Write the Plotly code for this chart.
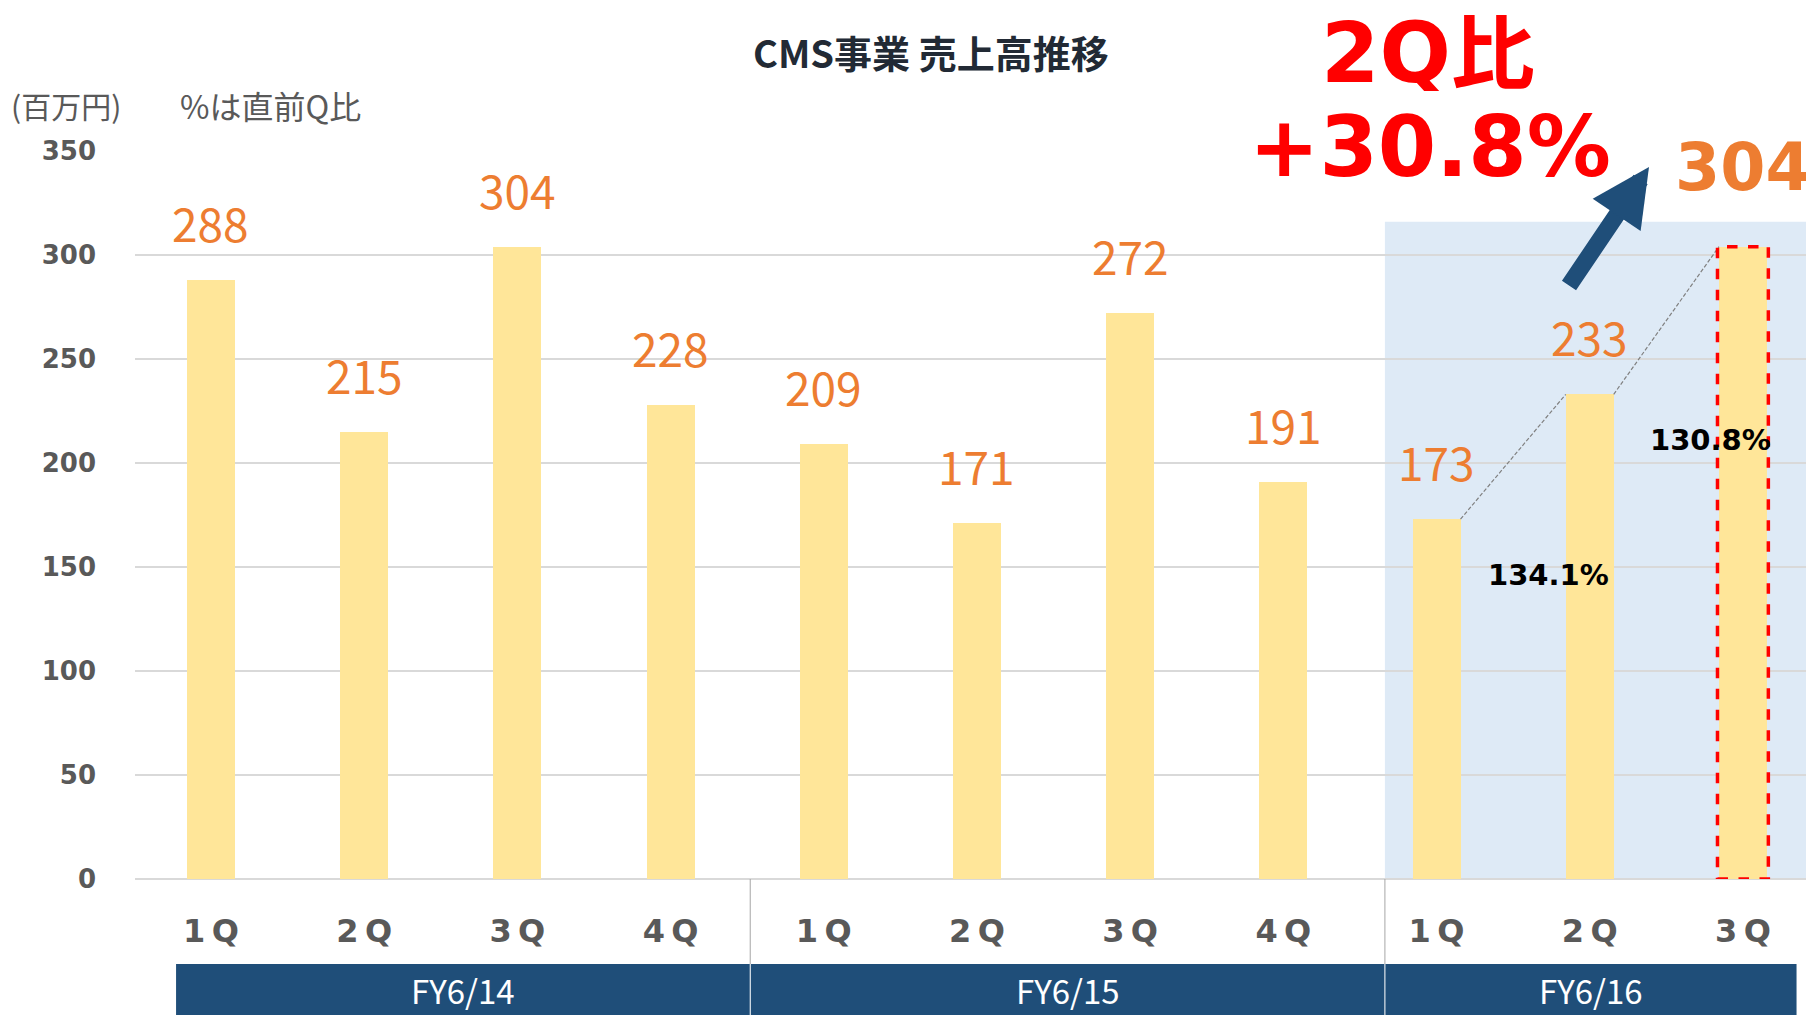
import plotly.graph_objects as go

# data
quarters = ["1\u2009Q", "2\u2009Q", "3\u2009Q", "4\u2009Q", "1\u2009Q", "2\u2009Q", "3\u2009Q",
            "4\u2009Q", "1\u2009Q", "2\u2009Q", "3\u2009Q"]
sales = [288, 215, 304, 228, 209, 171, 272, 191, 173, 233, 304]
fiscal_years = ["FY6/14", "FY6/15", "FY6/16"]
fy_edges = [-0.228, 3.52, 7.663, 10.35]
qoq_labels = ["134.1%", "130.8%"]
qoq_pos = [(8.73, 146), (9.79, 211)]

x = list(range(len(sales)))
bar_w = 0.313
orange = "#ED7D31"
navy = "#1F4E79"
grey = "#595959"

fig = go.Figure()
fig.add_trace(go.Bar(x=x, y=sales, width=bar_w, marker=dict(color="#FFE699", line=dict(width=0)),
                     hoverinfo="skip"))

shapes = []
annotations = []

# shaded current year
shapes.append(dict(type="rect", xref="x", yref="y", x0=fy_edges[2], x1=11, y0=0, y1=316,
                   fillcolor="#DEEAF6", line=dict(width=0), layer="below"))

# value labels
for i, v in enumerate(sales[:-1]):
    annotations.append(dict(x=i, y=v, xref="x", yref="y", text=str(v), showarrow=False,
                            yanchor="middle", yshift=58,
                            font=dict(family="Noto Sans CJK JP", size=46, color=orange)))
annotations.append(dict(x=x[-1], y=sales[-1], xref="x", yref="y", text=str(sales[-1]),
                        showarrow=False, yanchor="middle", yshift=79,
                        font=dict(family="DejaVu Sans", size=65, color=orange, weight="bold")))

# dashed connectors between the last three bars
for i in (8, 9):
    shapes.append(dict(type="line", xref="x", yref="y", x0=i + bar_w / 2, y0=sales[i],
                       x1=i + 1 - bar_w / 2, y1=sales[i + 1],
                       line=dict(color="#808080", width=1.2, dash="4px,2px")))

# q-on-q labels
for t, (px, py) in zip(qoq_labels, qoq_pos):
    annotations.append(dict(x=px, y=py, xref="x", yref="y", text=t, showarrow=False,
                            yanchor="middle",
                            font=dict(family="DejaVu Sans", size=29, color="black", weight="bold")))

# red dashed outline on latest bar
shapes.append(dict(type="rect", xref="x", yref="y", x0=x[-1] - 0.166, x1=x[-1] + 0.166,
                   y0=0, y1=sales[-1], line=dict(color="#FF0000", width=3.5, dash="dash"),
                   layer="above"))

# fiscal-year bands
for name, a, b in zip(fiscal_years, fy_edges[:-1], fy_edges[1:]):
    shapes.append(dict(type="rect", xref="x", yref="paper", x0=a, x1=b, y0=-0.1168, y1=-0.2,
                       fillcolor=navy, line=dict(width=0), layer="above"))
    annotations.append(dict(x=(a + b) / 2, y=-0.152, xref="x", yref="paper", text=name,
                            showarrow=False, yanchor="middle",
                            font=dict(family="Noto Sans CJK JP", size=33, color="white")))
for e in fy_edges[1:-1]:
    shapes.append(dict(type="line", xref="x", yref="paper", x0=e, x1=e, y0=0, y1=-0.1168,
                       line=dict(color="#A6A6A6", width=1), layer="above"))
    shapes.append(dict(type="line", xref="x", yref="paper", x0=e, x1=e, y0=-0.1168, y1=-0.2,
                       line=dict(color="white", width=1), layer="above"))

# headline
annotations.append(dict(x=1428, y=53, xref="paper", yref="paper", text="2Q比", showarrow=False,
                        height=76,
                        font=dict(family="DejaVu Sans, Noto Sans CJK JP", size=84, color="#FF0000",
                                  weight="bold")))
annotations.append(dict(x=1430, y=147, xref="paper", yref="paper", text="+30.8%", showarrow=False,
                        font=dict(family="DejaVu Sans", size=84, color="#FF0000", weight="bold")))

# arrow
annotations.append(dict(x=1649, y=167, xref="paper", yref="paper", text="", showarrow=True,
                        arrowhead=2, arrowwidth=17, arrowsize=0.68, arrowcolor=navy,
                        ax=-81, ay=120))

# title and unit notes
annotations.append(dict(x=931, y=51, xref="paper", yref="paper", text="CMS事業 売上高推移",
                        showarrow=False,
                        font=dict(family="Noto Sans CJK JP", size=38, color="#222A35", weight="bold")))
annotations.append(dict(x=66, y=105, xref="paper", yref="paper", text="(百万円)", showarrow=False,
                        font=dict(family="Noto Sans CJK JP", size=30, color=grey)))
annotations.append(dict(x=270, y=105, xref="paper", yref="paper", text="%は直前Q比", showarrow=False,
                        font=dict(family="Noto Sans CJK JP", size=32, color=grey)))

# page body has an 8px margin; place figure so that window pixels line up
off = 8
W, H = 1814 - off, 1015 - off
ml, mr, mt, mb = 135 - off, 0, 151 - off, 136
pw, ph = W - ml - mr, H - mt - mb
for a in annotations:
    if a["xref"] == "paper" and a["x"] > 2:
        a["x"] = (a["x"] - off - ml) / pw
        a["xanchor"] = "center"
    if a["yref"] == "paper" and a["y"] > 2:
        a["y"] = (H - mb - (a["y"] - off)) / ph
        a["yanchor"] = "middle"

fig.update_layout(
    width=W, height=H,
    margin=dict(l=ml, r=mr, t=mt, b=mb, autoexpand=False),
    plot_bgcolor="white", paper_bgcolor="white",
    showlegend=False, bargap=0,
    shapes=shapes, annotations=annotations,
    xaxis=dict(range=[-0.496, 10.464], tickmode="array", tickvals=x, ticktext=quarters,
               showgrid=False, zeroline=False, showline=False, ticks="", automargin=False,
               ticklabelstandoff=30,
               tickfont=dict(family="DejaVu Sans", size=32, color=grey, weight="bold")),
    yaxis=dict(range=[0, 350], dtick=50, showgrid=True, gridcolor="#D9D9D9", gridwidth=2,
               zeroline=True, zerolinecolor="#D9D9D9", zerolinewidth=2, showline=False,
               ticks="", ticklabelstandoff=38, automargin=False,
               tickfont=dict(family="DejaVu Sans", size=26, color=grey, weight="bold")),
)

fig.write_html("out.html")
